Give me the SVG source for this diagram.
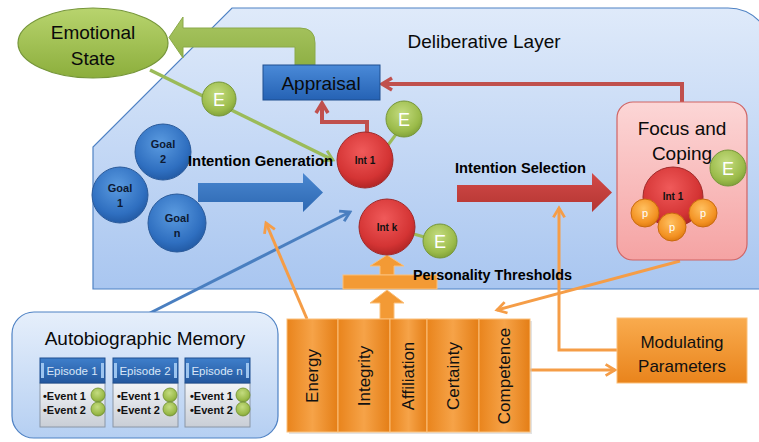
<svg xmlns="http://www.w3.org/2000/svg" width="759" height="442" viewBox="0 0 759 442">
<defs>
<style>
text{font-family:"Liberation Sans",Arial,sans-serif;}
.lbl{font-size:19px;fill:#0a0a0a;text-anchor:middle;}
.bold{font-weight:bold;fill:#000;}
.small{font-size:10px;font-weight:bold;text-anchor:middle;fill:#111;}
.goal{font-size:11px;font-weight:bold;text-anchor:middle;fill:#0d1a33;}
.etxt{font-size:18px;fill:#fff;text-anchor:middle;}
.ptxt{font-size:11px;fill:#fff;text-anchor:middle;}
.ecirc{fill:url(#gGreen);stroke:#76963a;stroke-width:1;}
.goalc{fill:url(#gBlue);stroke:#2a5a9a;stroke-width:1;}
.intc{fill:url(#gRed);stroke:#a02a2a;stroke-width:1;}
.pc{fill:url(#gOrange);stroke:#c86a10;stroke-width:1;}
.red{stroke:#c0504d;stroke-width:4;fill:none;}
.org{stroke:#f59d47;stroke-width:3;fill:none;}
.grn{stroke:#9bbb59;stroke-width:3.5;fill:none;}
.blu{stroke:#4a7fc0;stroke-width:3;fill:none;}
.col{fill:url(#gCol);stroke:#fbc07a;stroke-width:1;}
.ctxt{font-size:17px;fill:#111;text-anchor:middle;}
.ephd{fill:url(#gEpHead);stroke:#1f4f8f;stroke-width:1;}
.epbd{fill:url(#gEpBody);stroke:#8a96a6;stroke-width:1;}
.eptxt{font-size:11.5px;fill:#d8e6f8;text-anchor:middle;}
.evtxt{font-size:11px;font-weight:bold;fill:#111;}
.dot{fill:url(#gGreen);stroke:#6f8f30;stroke-width:0.8;}
.tab{fill:#9cc4ef;}
</style>
<linearGradient id="gLayer" x1="0" y1="0" x2="0" y2="1">
<stop offset="0" stop-color="#dfeafa"/><stop offset="1" stop-color="#a9c6f0"/>
</linearGradient>
<linearGradient id="gMem" x1="0" y1="0" x2="0" y2="1">
<stop offset="0" stop-color="#e6effb"/><stop offset="1" stop-color="#b5cff2"/>
</linearGradient>
<radialGradient id="gGreen" cx="0.45" cy="0.35" r="0.7">
<stop offset="0" stop-color="#c4dc80"/><stop offset="0.7" stop-color="#9bbb4a"/><stop offset="1" stop-color="#7b9c35"/>
</radialGradient>
<radialGradient id="gBlue" cx="0.45" cy="0.35" r="0.7">
<stop offset="0" stop-color="#5b9be0"/><stop offset="0.7" stop-color="#2f6fc0"/><stop offset="1" stop-color="#1f559e"/>
</radialGradient>
<radialGradient id="gRed" cx="0.45" cy="0.35" r="0.7">
<stop offset="0" stop-color="#f05a5a"/><stop offset="0.7" stop-color="#d43434"/><stop offset="1" stop-color="#a82222"/>
</radialGradient>
<radialGradient id="gOrange" cx="0.45" cy="0.35" r="0.7">
<stop offset="0" stop-color="#ffc060"/><stop offset="0.7" stop-color="#f39223"/><stop offset="1" stop-color="#d9740c"/>
</radialGradient>
<linearGradient id="gCol" x1="0" y1="0" x2="1" y2="0">
<stop offset="0" stop-color="#e9841c"/><stop offset="0.5" stop-color="#f6a348"/><stop offset="1" stop-color="#e47e16"/>
</linearGradient>
<linearGradient id="gMod" x1="0" y1="0" x2="0" y2="1">
<stop offset="0" stop-color="#f9ab4e"/><stop offset="1" stop-color="#e9841c"/>
</linearGradient>
<linearGradient id="gApp" x1="0" y1="0" x2="0" y2="1">
<stop offset="0" stop-color="#4a8ad8"/><stop offset="1" stop-color="#2562b4"/>
</linearGradient>
<linearGradient id="gFocus" x1="0" y1="0" x2="0" y2="1">
<stop offset="0" stop-color="#fcd6d6"/><stop offset="1" stop-color="#f5a3a3"/>
</linearGradient>
<linearGradient id="gBArrow" x1="0" y1="0" x2="0" y2="1">
<stop offset="0" stop-color="#4a87d0"/><stop offset="1" stop-color="#2d68b2"/>
</linearGradient>
<linearGradient id="gRArrow" x1="0" y1="0" x2="0" y2="1">
<stop offset="0" stop-color="#d24a48"/><stop offset="1" stop-color="#b43532"/>
</linearGradient>
<linearGradient id="gGArrow" x1="0" y1="0" x2="0" y2="1">
<stop offset="0" stop-color="#a9c662"/><stop offset="1" stop-color="#8fb045"/>
</linearGradient>
<linearGradient id="gEll" x1="0" y1="0" x2="0" y2="1">
<stop offset="0" stop-color="#b8d46e"/><stop offset="1" stop-color="#8cae3c"/>
</linearGradient>
<linearGradient id="gEpHead" x1="0" y1="0" x2="0" y2="1">
<stop offset="0" stop-color="#3f7fcb"/><stop offset="1" stop-color="#24589e"/>
</linearGradient>
<linearGradient id="gEpBody" x1="0" y1="0" x2="0" y2="1">
<stop offset="0" stop-color="#f2f4f7"/><stop offset="1" stop-color="#c9ced6"/>
</linearGradient>
<marker id="mRed" viewBox="0 0 16 16" refX="13" refY="8" markerWidth="16" markerHeight="16" markerUnits="userSpaceOnUse" orient="auto">
<path d="M3,2 L13,8 L3,14" fill="none" stroke="#c0504d" stroke-width="3.5"/>
</marker>
<marker id="mOrg" viewBox="0 0 16 16" refX="13" refY="8" markerWidth="15" markerHeight="15" markerUnits="userSpaceOnUse" orient="auto">
<path d="M3,2 L13,8 L3,14" fill="none" stroke="#f59d47" stroke-width="3"/>
</marker>
<marker id="mGrn" viewBox="0 0 16 16" refX="13" refY="8" markerWidth="15" markerHeight="15" markerUnits="userSpaceOnUse" orient="auto">
<path d="M3,2 L13,8 L3,14" fill="none" stroke="#9bbb59" stroke-width="3"/>
</marker>
<marker id="mBlu" viewBox="0 0 16 16" refX="13" refY="8" markerWidth="15" markerHeight="15" markerUnits="userSpaceOnUse" orient="auto">
<path d="M3,2 L13,8 L3,14" fill="none" stroke="#4a7fc0" stroke-width="3"/>
</marker>
</defs>

<rect x="0" y="0" width="759" height="442" fill="#ffffff"/>

<g id="deliberative-layer">
<path d="M232,8 H728 A44,44 0 0 1 772,52 V289 H93 V147 Z" fill="url(#gLayer)" stroke="#4f82c4" stroke-width="1.2"/>
<text x="484" y="48" class="lbl" font-size="19.5">Deliberative Layer</text>
</g>

<g id="connectors">
<path d="M295,65 V47 H183 V58 L169,37.5 L183,17 V28 H300 Q315,28 315,43 V65 Z" fill="url(#gGArrow)" stroke="#8aa94a" stroke-width="1"/>
<polygon points="198,183 303,183 303,173 323,192.5 303,212 303,202 198,202" fill="url(#gBArrow)"/>
<polygon points="457,185 592,185 592,173 612,192.5 592,212 592,202 457,202" fill="url(#gRArrow)"/>
<line x1="150" y1="70" x2="333" y2="160" class="grn" marker-end="url(#mGrn)"/>
<path d="M367,133 V122 H322 V103" class="red" marker-end="url(#mRed)"/>
<path d="M682,103 V84 H382" class="red" marker-end="url(#mRed)"/>
<line x1="150" y1="313" x2="350" y2="212" class="blu" marker-end="url(#mBlu)"/>
<line x1="307" y1="319" x2="266" y2="223" class="org" marker-end="url(#mOrg)"/>
<line x1="680" y1="261" x2="497" y2="310" class="org" marker-end="url(#mOrg)"/>
<path d="M617,350 H559 V208" class="org" marker-end="url(#mOrg)"/>
<line x1="530" y1="370" x2="615" y2="370" class="org" marker-end="url(#mOrg)"/>
<polygon points="380,319 380,303 370,303 387,290 404,303 394,303 394,319" fill="#f39a35" stroke="#fbc07a" stroke-width="1"/>
<polygon points="380,275 380,266 370,266 387,255 404,266 394,266 394,275" fill="#f39a35" stroke="#fbc07a" stroke-width="1"/>
<line x1="385" y1="149" x2="397" y2="133" stroke="#9bbb59" stroke-width="3"/>
<line x1="410" y1="233" x2="428" y2="238" stroke="#9bbb59" stroke-width="3"/>
<line x1="690" y1="185" x2="715" y2="172" stroke="#9bbb59" stroke-width="3"/>
</g>

<g id="emotional-state">
<ellipse cx="93" cy="43" rx="75" ry="35" fill="url(#gEll)" stroke="#76963a" stroke-width="1.2"/>
<text x="93" y="39" class="lbl" font-size="19.5">Emotional</text>
<text x="93" y="65" class="lbl" font-size="19.5">State</text>
</g>

<g id="appraisal">
<rect x="263" y="65" width="117" height="35" fill="url(#gApp)" stroke="#1f4f8f" stroke-width="1"/>
<text x="321" y="90" class="lbl" font-size="17">Appraisal</text>
</g>

<g id="e-appraisal"><circle cx="219" cy="99" r="17" class="ecirc"/><text x="219" y="106" class="etxt">E</text></g>

<g id="goal-2"><circle cx="163" cy="152" r="28" class="goalc"/><text x="163" y="148" class="goal">Goal</text><text x="163" y="163" class="goal">2</text></g>
<g id="goal-1"><circle cx="120" cy="195" r="28" class="goalc"/><text x="120" y="192" class="goal">Goal</text><text x="120" y="207" class="goal">1</text></g>
<g id="goal-n"><circle cx="177" cy="223" r="29" class="goalc"/><text x="177" y="222" class="goal">Goal</text><text x="177" y="237" class="goal">n</text></g>

<g id="intention-generation"><text x="188" y="166" class="bold" font-size="14.5" textLength="145" lengthAdjust="spacingAndGlyphs">Intention Generation</text></g>

<g id="int-1"><circle cx="365" cy="160" r="28" class="intc"/><text x="365" y="164" class="small">Int 1</text></g>
<g id="e-int-1"><circle cx="404" cy="119" r="18" class="ecirc"/><text x="404" y="126" class="etxt">E</text></g>

<g id="int-k"><circle cx="387" cy="227" r="28" class="intc"/><text x="387" y="231" class="small">Int k</text></g>
<g id="e-int-k"><circle cx="440" cy="241" r="17" class="ecirc"/><text x="440" y="248" class="etxt">E</text></g>

<g id="intention-selection"><text x="455" y="173" class="bold" font-size="14.5" textLength="131" lengthAdjust="spacingAndGlyphs">Intention Selection</text></g>

<g id="focus-coping">
<rect x="617" y="102" width="130" height="158" rx="16" fill="url(#gFocus)" stroke="#d06464" stroke-width="1.2"/>
<text x="682" y="135" class="lbl" font-size="20">Focus and</text>
<text x="682" y="160" class="lbl" font-size="20">Coping</text>
<circle cx="673" cy="197" r="30" class="intc"/>
<text x="673" y="200" class="small">Int 1</text>
<circle cx="645" cy="213" r="14" class="pc"/><text x="645" y="217" class="ptxt">p</text>
<circle cx="703" cy="213" r="14" class="pc"/><text x="703" y="217" class="ptxt">p</text>
<circle cx="672" cy="227" r="14" class="pc"/><text x="672" y="231" class="ptxt">p</text>
</g>
<g id="e-focus"><circle cx="728" cy="168" r="18" class="ecirc"/><text x="728" y="175" class="etxt">E</text></g>

<g id="personality-thresholds">
<rect x="343" y="275" width="94" height="14" fill="#f39a35" stroke="#fbc07a" stroke-width="1"/>
<text x="413" y="280" class="bold" font-size="14.5" textLength="159" lengthAdjust="spacingAndGlyphs">Personality Thresholds</text>
</g>

<g id="drives">
<rect x="289" y="321" width="243" height="113" fill="#c8c8c8" opacity="0.5"/>
<rect x="287" y="319" width="51" height="113" class="col"/>
<rect x="338" y="319" width="52" height="113" class="col"/>
<rect x="390" y="319" width="37" height="113" class="col"/>
<rect x="427" y="319" width="52" height="113" class="col"/>
<rect x="479" y="319" width="51" height="113" class="col"/>
<text transform="translate(312,376) rotate(-90)" class="ctxt" dy="6">Energy</text>
<text transform="translate(364,376) rotate(-90)" class="ctxt" dy="6">Integrity</text>
<text transform="translate(408,376) rotate(-90)" class="ctxt" dy="6">Affiliation</text>
<text transform="translate(453,376) rotate(-90)" class="ctxt" dy="6">Certainty</text>
<text transform="translate(504,376) rotate(-90)" class="ctxt" dy="6">Competence</text>
</g>

<g id="modulating-parameters">
<rect x="617" y="318" width="130" height="65" fill="url(#gMod)" stroke="#fbc07a" stroke-width="1"/>
<text x="682" y="348" class="ctxt" font-size="18">Modulating</text>
<text x="682" y="372" class="ctxt" font-size="18">Parameters</text>
</g>

<g id="autobiographic-memory">
<rect x="12" y="312" width="266" height="126" rx="22" fill="url(#gMem)" stroke="#4f82c4" stroke-width="1.2"/>
<text x="145" y="345" class="lbl" font-size="22">Autobiographic Memory</text>
<g id="episode-1">
<rect x="40" y="383" width="65" height="44" class="epbd"/>
<rect x="40" y="358" width="65" height="25" class="ephd"/>
<rect x="41" y="363" width="3" height="15" class="tab"/><rect x="101" y="363" width="3" height="15" class="tab"/>
<text x="72" y="375" class="eptxt">Episode 1</text>
<text x="43" y="400" class="evtxt">•Event 1</text>
<text x="43" y="414" class="evtxt">•Event 2</text>
<circle cx="98" cy="395" r="7" class="dot"/><circle cx="98" cy="409" r="7" class="dot"/>
</g>
<g id="episode-2">
<rect x="113" y="383" width="65" height="44" class="epbd"/>
<rect x="113" y="358" width="65" height="25" class="ephd"/>
<rect x="114" y="363" width="3" height="15" class="tab"/><rect x="174" y="363" width="3" height="15" class="tab"/>
<text x="145" y="375" class="eptxt">Episode 2</text>
<text x="117" y="400" class="evtxt">•Event 1</text>
<text x="117" y="414" class="evtxt">•Event 2</text>
<circle cx="170" cy="395" r="7" class="dot"/><circle cx="170" cy="409" r="7" class="dot"/>
</g>
<g id="episode-n">
<rect x="185" y="383" width="65" height="44" class="epbd"/>
<rect x="185" y="358" width="65" height="25" class="ephd"/>
<rect x="186" y="363" width="3" height="15" class="tab"/><rect x="246" y="363" width="3" height="15" class="tab"/>
<text x="217" y="375" class="eptxt">Episode n</text>
<text x="190" y="400" class="evtxt">•Event 1</text>
<text x="190" y="414" class="evtxt">•Event 2</text>
<circle cx="243" cy="395" r="7" class="dot"/><circle cx="243" cy="409" r="7" class="dot"/>
</g>
</g>
</svg>
